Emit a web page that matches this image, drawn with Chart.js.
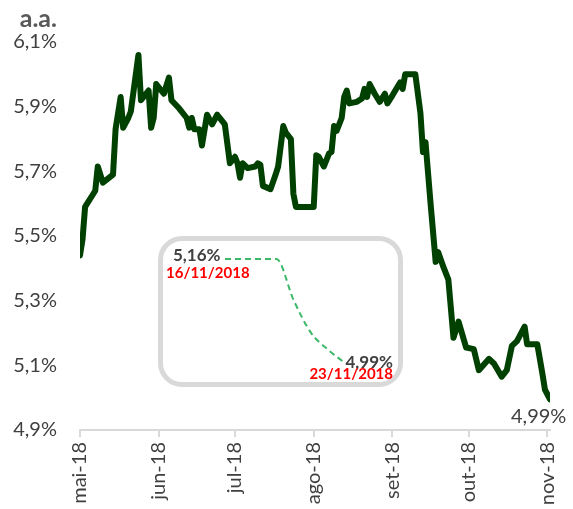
<!DOCTYPE html>
<html lang="pt-BR">
<head>
<meta charset="utf-8">
<title>Taxa a.a.</title>
<script src="https://cdn.jsdelivr.net/npm/chart.js@4.4.1/dist/chart.umd.min.js"></script>
<style>
  html, body { margin: 0; padding: 0; background: #fff; overflow: hidden; }
  #wrap { position: relative; width: 573px; height: 509px; font-family: Lato, sans-serif; }
  #chart-taxa { position: absolute; left: 0; top: 0; }
  #chart-inset { position: absolute; left: 220px; top: 254px; }
  .txt { position: absolute; line-height: 1; white-space: nowrap; }
  .unit { right: 516px; top: 5px; font-size: 25px; font-weight: bold; color: #595959; }
  .inset-box { position: absolute; left: 158px; top: 236px; width: 245px; height: 151px;
    box-sizing: border-box; border: 5px solid #d9d9d9; border-radius: 24px; }
  .val { font-size: 17px; font-weight: bold; color: #404040; }
  .dt { font-size: 15px; font-weight: bold; color: #ff0000; }
  .last { left: 511px; top: 405px; font-size: 20px; color: #404040; }
</style>
</head>
<body>
<div id="wrap">
  <canvas id="chart-taxa" width="573" height="509"></canvas>
  <div class="txt unit">a.a.</div>
  <div class="inset-box"></div>
  <canvas id="chart-inset" width="130" height="114"></canvas>
  <div class="txt val" style="left:173px; top:246px">5,16%</div>
  <div class="txt dt" style="left:166px; top:265px">16/11/2018</div>
  <div class="txt val" style="right:180px; top:353px">4,99%</div>
  <div class="txt dt" style="right:180px; top:366px">23/11/2018</div>
  <div class="txt last">4,99%</div>
</div>
<script>
// dias contados a partir de 01/05/2018
const dias = [
  0, 1, 2, 6, 7, 9, 13, 14, 16, 17, 19, 20, 23, 24, 27, 28, 29, 30, 33, 35, 36, 39,
  42, 43, 44, 45, 47, 48, 50, 52, 54, 56, 57, 59, 61, 62, 63, 64, 66, 69, 70, 71, 72,
  75, 77, 78, 80, 81, 83, 84, 85, 92, 93, 94, 96, 98, 99, 100, 101, 103, 104, 105, 106,
  109, 111, 112, 113, 114, 116, 118, 120, 121, 123, 126, 127, 128, 132, 134, 135, 136,
  138, 140, 141, 143, 145, 147, 149, 152, 155, 157, 161, 163, 166, 168, 170, 172, 175,
  176, 180, 182, 183, 185
];
const taxas = [
  5.44, 5.49, 5.59, 5.64, 5.715, 5.665, 5.69, 5.83, 5.93, 5.835, 5.865, 5.885, 6.06, 5.92, 5.95, 5.835, 5.865, 5.97, 5.94, 5.99, 5.92, 5.895,
  5.865, 5.835, 5.865, 5.83, 5.83, 5.78, 5.875, 5.845, 5.875, 5.855, 5.845, 5.725, 5.745, 5.725, 5.68, 5.725, 5.71, 5.715, 5.725, 5.72, 5.655,
  5.645, 5.69, 5.715, 5.84, 5.82, 5.80, 5.63, 5.59, 5.59, 5.75, 5.745, 5.715, 5.755, 5.76, 5.84, 5.825, 5.865, 5.93, 5.95, 5.91,
  5.915, 5.925, 5.955, 5.93, 5.97, 5.94, 5.915, 5.94, 5.91, 5.935, 5.975, 5.955, 6.0, 6.0, 5.88, 5.76, 5.79,
  5.60, 5.42, 5.45, 5.405, 5.365, 5.185, 5.235, 5.155, 5.15, 5.085, 5.12, 5.105, 5.065, 5.085, 5.16, 5.175, 5.22,
  5.165, 5.165, 5.075, 5.025, 4.995
];
const mesesPos = [0, 31, 61, 92, 123, 153, 184];
const mesesLabels = ['mai-18', 'jun-18', 'jul-18', 'ago-18', 'set-18', 'out-18', 'nov-18'];
const yTicks = [4.9, 5.1, 5.3, 5.5, 5.7, 5.9, 6.1];

// destaque: 16/11 a 23/11
const insetDias = ['16/11', '17/11', '18/11', '19/11', '20/11', '21/11', '22/11', '23/11'];
const insetTaxas = [5.16, 5.16, 5.16, 5.16, 5.093, 5.04, 5.012, 4.99];

const tickFont = { family: 'Lato', size: 20 };

new Chart(document.getElementById('chart-taxa'), {
  type: 'line',
  data: {
    datasets: [{
      data: dias.map((d, i) => ({ x: d, y: taxas[i] })),
      borderColor: '#004000',
      borderWidth: 6,
      borderJoinStyle: 'round',
      borderCapStyle: 'round',
      pointRadius: 0,
      tension: 0
    }]
  },
  options: {
    responsive: false,
    animation: false,
    layout: { padding: { top: 42, right: 23, left: 0, bottom: 0 } },
    plugins: { legend: { display: false }, tooltip: { enabled: false } },
    scales: {
      x: {
        type: 'linear', min: 0, max: 185,
        afterBuildTicks: s => { s.ticks = mesesPos.map(v => ({ value: v })); },
        afterFit: s => { s.height = 79; s.paddingLeft = 0; s.paddingRight = 0; },
        grid: { drawOnChartArea: false, color: '#d9d9d9', lineWidth: 2, tickLength: 7 },
        border: { color: '#d9d9d9', width: 2 },
        ticks: {
          minRotation: 90, maxRotation: 90, padding: 5, color: '#404040', font: tickFont,
          callback: (v, i) => mesesLabels[i]
        }
      },
      y: {
        min: 4.9, max: 6.1,
        afterBuildTicks: s => { s.ticks = yTicks.map(v => ({ value: v })); },
        afterFit: s => { s.width = 80; s.paddingTop = 0; s.paddingBottom = 0; },
        grid: { display: false, drawTicks: false },
        border: { display: false },
        ticks: {
          padding: 23, color: '#404040', font: tickFont,
          callback: v => v.toFixed(1).replace('.', ',') + '%'
        }
      }
    }
  }
});

new Chart(document.getElementById('chart-inset'), {
  type: 'line',
  data: {
    labels: insetDias,
    datasets: [{
      data: insetTaxas,
      borderColor: '#3cb868',
      borderWidth: 2,
      borderDash: [6, 4],
      pointRadius: 0,
      clip: false,
      cubicInterpolationMode: 'monotone'
    }]
  },
  options: {
    responsive: false,
    animation: false,
    layout: { padding: 5 },
    plugins: { legend: { display: false }, tooltip: { enabled: false } },
    scales: {
      x: { display: false },
      y: { display: false, min: 4.99, max: 5.16 }
    }
  }
});
</script>
</body>
</html>
